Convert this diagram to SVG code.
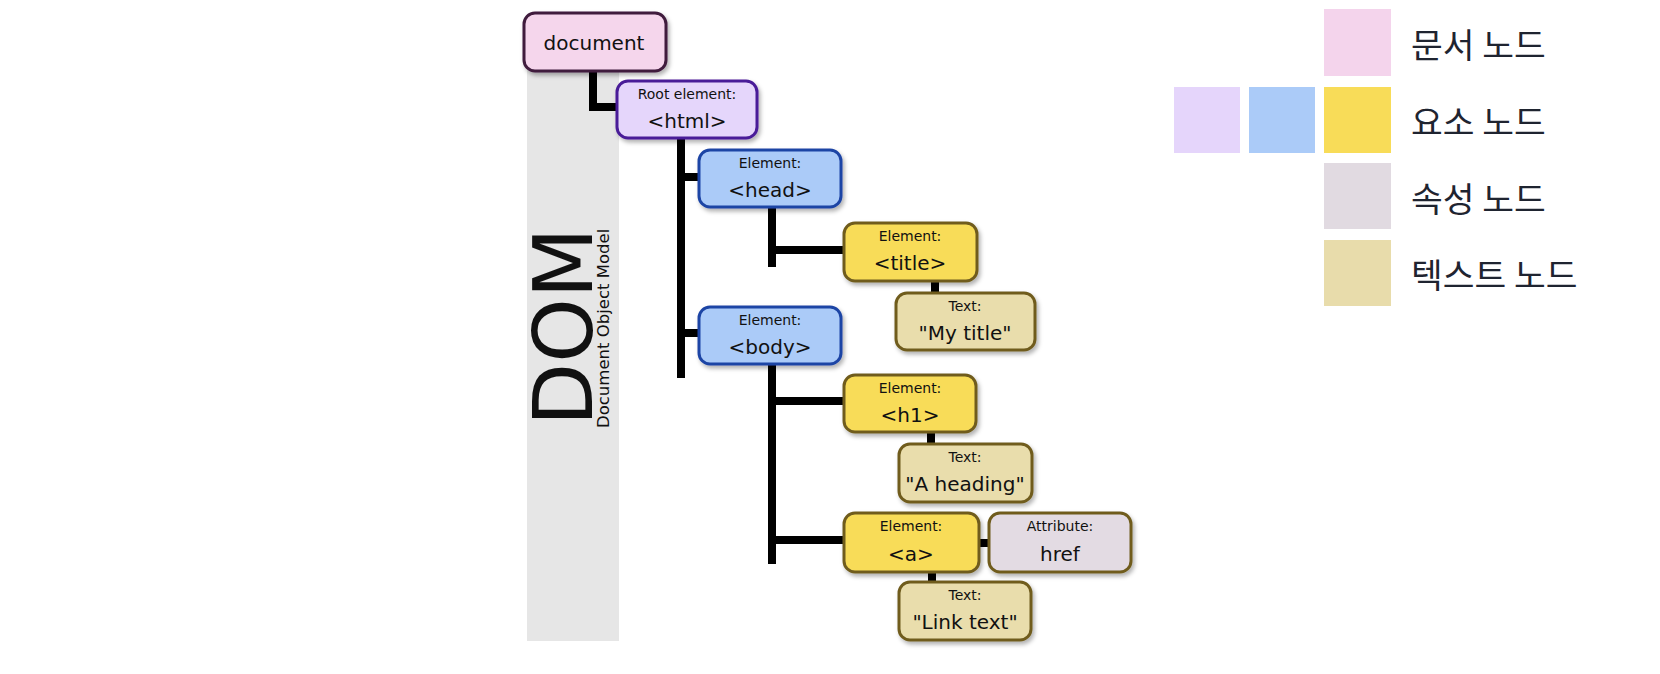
<svg xmlns="http://www.w3.org/2000/svg" width="1660" height="674" viewBox="0 0 1660 674">
<defs>
<filter id="sh" x="-10%" y="-10%" width="130%" height="140%">
<feDropShadow dx="2" dy="3" stdDeviation="2" flood-color="#000" flood-opacity="0.3"/>
</filter>
<style>
.box{stroke-width:3;filter:url(#sh)}
.doc{fill:#f5d6ec;stroke:#3f1b3d}
.root{fill:#e5d6fb;stroke:#4a1c98}
.el{fill:#abcbf8;stroke:#1f45a5}
.yel{fill:#f8dc58;stroke:#6f5c1f}
.txt{fill:#e9ddac;stroke:#6f5c1f}
.att{fill:#e3dbe3;stroke:#6f5c1f}
text{font-family:"DejaVu Sans","Liberation Sans",sans-serif;fill:#111}
.s{font-size:14px;text-anchor:middle}
.b{font-size:20px;text-anchor:middle}
.lg{font-family:"Noto Sans CJK KR","Noto Sans",sans-serif;font-size:34.5px;fill:#1f2430}
.con{fill:none;stroke:#000;stroke-width:8;stroke-linejoin:miter;stroke-linecap:butt}
</style>
</defs>
<rect width="1660" height="674" fill="#fff"/>
<rect x="527" y="40" width="92" height="601" fill="#e6e6e6"/>
<text transform="translate(592,426) rotate(-90)" style="font-size:82px">DOM</text>
<text transform="translate(609,428) rotate(-90)" style="font-size:16.5px">Document Object Model</text>
<g id="connectors">
<path class="con" d="M593,70 V107 H618"/>
<path class="con" d="M681,137 V378 M681,177 H700 M681,333 H700"/>
<path class="con" d="M772,206 V267 M772,250 H845"/>
<path class="con" d="M935,281 V294"/>
<path class="con" d="M772,363 V564 M772,401 H845 M772,540 H845"/>
<path class="con" d="M931,431 V445"/>
<path class="con" d="M932,571 V583"/>
<path class="con" d="M978,543 H990"/>
</g>
<g id="document">
<rect class="box doc" x="524" y="13" width="142" height="58" rx="11"/>
<text x="594" y="50" style="font-size:20px;text-anchor:middle">document</text>
</g>
<g id="html">
<rect class="box root" x="617" y="81" width="140" height="57" rx="11"/>
<text class="s" x="687" y="99">Root element:</text>
<text class="b" x="687" y="128">&lt;html&gt;</text>
</g>
<g id="head">
<rect class="box el" x="699" y="150" width="142" height="57" rx="11"/>
<text class="s" x="770" y="168">Element:</text>
<text class="b" x="770" y="197">&lt;head&gt;</text>
</g>
<g id="body">
<rect class="box el" x="699" y="307" width="142" height="57" rx="11"/>
<text class="s" x="770" y="325">Element:</text>
<text class="b" x="770" y="354">&lt;body&gt;</text>
</g>
<g id="title">
<rect class="box yel" x="844" y="223" width="133" height="58" rx="11"/>
<text class="s" x="910" y="241">Element:</text>
<text class="b" x="910" y="270">&lt;title&gt;</text>
</g>
<g id="text-title">
<rect class="box txt" x="896" y="293" width="139" height="57" rx="11"/>
<text class="s" x="965" y="311">Text:</text>
<text class="b" x="965" y="340">"My title"</text>
</g>
<g id="h1">
<rect class="box yel" x="844" y="375" width="132" height="57" rx="11"/>
<text class="s" x="910" y="393">Element:</text>
<text class="b" x="910" y="422">&lt;h1&gt;</text>
</g>
<g id="text-heading">
<rect class="box txt" x="899" y="444" width="133" height="58" rx="11"/>
<text class="s" x="965" y="462">Text:</text>
<text class="b" x="965" y="491">"A heading"</text>
</g>
<g id="a">
<rect class="box yel" x="844" y="513" width="135" height="59" rx="11"/>
<text class="s" x="911" y="531">Element:</text>
<text class="b" x="911" y="561">&lt;a&gt;</text>
</g>
<g id="href">
<rect class="box att" x="989" y="513" width="142" height="59" rx="11"/>
<text class="s" x="1060" y="531">Attribute:</text>
<text class="b" x="1060" y="561">href</text>
</g>
<g id="text-link">
<rect class="box txt" x="899" y="582" width="132" height="58" rx="11"/>
<text class="s" x="965" y="600">Text:</text>
<text class="b" x="965" y="629">"Link text"</text>
</g>
<g id="legend">
<rect x="1324" y="9" width="67" height="67" fill="#f4d4ec"/>
<rect x="1174" y="87" width="66" height="66" fill="#e5d5fb"/>
<rect x="1249" y="87" width="66" height="66" fill="#abcbf8"/>
<rect x="1324" y="87" width="67" height="66" fill="#f8dc58"/>
<rect x="1324" y="163" width="67" height="66" fill="#e1dae1"/>
<rect x="1324" y="240" width="67" height="66" fill="#e8dcab"/>
<text class="lg" x="1411" y="58">문서 노드</text>
<text class="lg" x="1411" y="135">요소 노드</text>
<text class="lg" x="1411" y="212">속성 노드</text>
<text class="lg" x="1411" y="288">텍스트 노드</text>
</g>
</svg>
